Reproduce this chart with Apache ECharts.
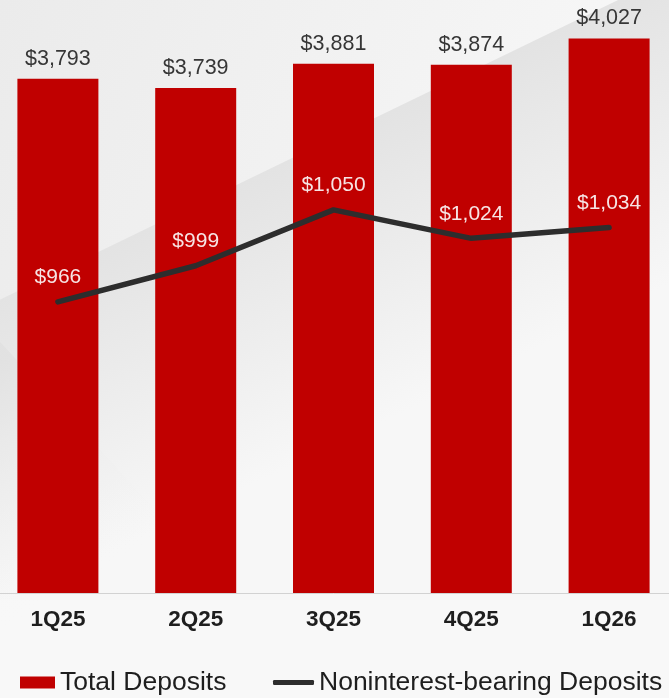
<!DOCTYPE html>
<html>
<head>
<meta charset="utf-8">
<title>Deposits</title>
<script src="https://cdn.jsdelivr.net/npm/echarts@6/dist/echarts.min.js"></script>
<style>
  html, body { margin: 0; padding: 0; background: #f6f6f6; overflow: hidden; }
  /* plot area runs slightly past both page edges */
  #chart { width: 689px; height: 698px; margin-left: -11px; }
</style>
</head>
<body>
<div id="chart"></div>
<script>
// Quarterly deposits ($ millions)
const quarters = ['1Q25', '2Q25', '3Q25', '4Q25', '1Q26'];
const totalDeposits = [3793, 3739, 3881, 3874, 4027];
const nonInterestDeposits = [966, 999, 1050, 1024, 1034];

const FONT = '"Liberation Sans", Arial, Helvetica, sans-serif';
const OX = 11; // container offset relative to the page
const money = v => '$' + Number(v).toLocaleString('en-US');
const pts = arr => arr.map(([x, y]) => [x + OX, y]);

const chart = echarts.init(document.getElementById('chart'), null, { renderer: 'canvas' });

chart.setOption({
  backgroundColor: 'transparent',
  animation: false,
  textStyle: { fontFamily: FONT },
  graphic: {
    elements: [
      {
        type: 'rect', z: -100, silent: true,
        shape: { x: 0, y: 0, width: 689, height: 698 },
        style: {
          fill: new echarts.graphic.LinearGradient(OX, 0, OX + 669, 260, [
            { offset: 0, color: '#ebebeb' },
            { offset: 1, color: '#f9f9f9' }
          ], true)
        }
      },
      {
        // grey diagonal band behind the bars
        type: 'polygon', z: -99, silent: true,
        shape: { points: pts([[-11, 305], [680, -30], [680, 698], [-11, 698]]) },
        style: {
          fill: new echarts.graphic.LinearGradient(OX + 330, 140, OX + 450, 390, [
            { offset: 0, color: '#e3e3e3' },
            { offset: 1, color: '#f7f7f7' }
          ], true)
        }
      },
      {
        type: 'polygon', z: -98, silent: true,
        shape: { points: pts([[-11, 330], [330, 698], [-11, 698]]) },
        style: {
          fill: new echarts.graphic.LinearGradient(OX, 360, OX + 120, 560, [
            { offset: 0, color: 'rgba(225,225,225,0.9)' },
            { offset: 1, color: 'rgba(246,246,246,0)' }
          ], true)
        }
      },
      {
        type: 'rect', z: -97, silent: true,
        shape: { x: 0, y: 600, width: 689, height: 98 },
        style: { fill: 'rgba(248,248,248,0.8)' }
      }
    ]
  },
  legend: [
    {
      data: [{ name: 'Total Deposits', icon: 'rect' }],
      left: 15 + OX, top: 664,
      itemWidth: 35, itemHeight: 12,
      selectedMode: false,
      textStyle: { fontSize: 26.5, color: '#1e1e1e', fontFamily: FONT }
    },
    {
      data: [{ name: 'Noninterest-bearing Deposits', icon: 'roundRect' }],
      left: 268 + OX, top: 664,
      itemWidth: 41, itemHeight: 5,
      selectedMode: false,
      textStyle: { fontSize: 26.5, color: '#1e1e1e', fontFamily: FONT }
    }
  ],
  grid: { left: 0, right: 0, top: 26, bottom: 105, containLabel: false },
  xAxis: {
    type: 'category',
    data: quarters,
    axisTick: { show: false },
    axisLine: { lineStyle: { color: '#d2d2d2', width: 1 } },
    axisLabel: {
      margin: 15,
      fontSize: 22.5,
      fontWeight: 'bold',
      color: '#1e1e1e',
      fontFamily: FONT
    }
  },
  yAxis: [
    { type: 'value', min: 800, max: 4100, show: false, splitLine: { show: false } },
    { type: 'value', min: 700, max: 1218, show: false, splitLine: { show: false } }
  ],
  series: [
    {
      name: 'Total Deposits',
      type: 'bar',
      yAxisIndex: 0,
      data: totalDeposits,
      barWidth: 81,
      itemStyle: { color: '#C00000' },
      label: {
        show: true,
        position: 'top',
        distance: 9,
        fontSize: 21.5,
        color: '#363636',
        fontFamily: FONT,
        formatter: p => money(p.value)
      }
    },
    {
      name: 'Noninterest-bearing Deposits',
      type: 'line',
      yAxisIndex: 1,
      data: nonInterestDeposits,
      symbol: 'circle',
      symbolSize: 2,
      itemStyle: { color: '#2d2d2d' },
      lineStyle: { color: '#2d2d2d', width: 5.5, cap: 'round', join: 'round' },
      label: {
        show: true,
        position: 'top',
        distance: 13,
        fontSize: 21,
        color: '#f7e4e4',
        fontFamily: FONT,
        formatter: p => money(p.value)
      },
      z: 5
    }
  ]
});
</script>
</body>
</html>
